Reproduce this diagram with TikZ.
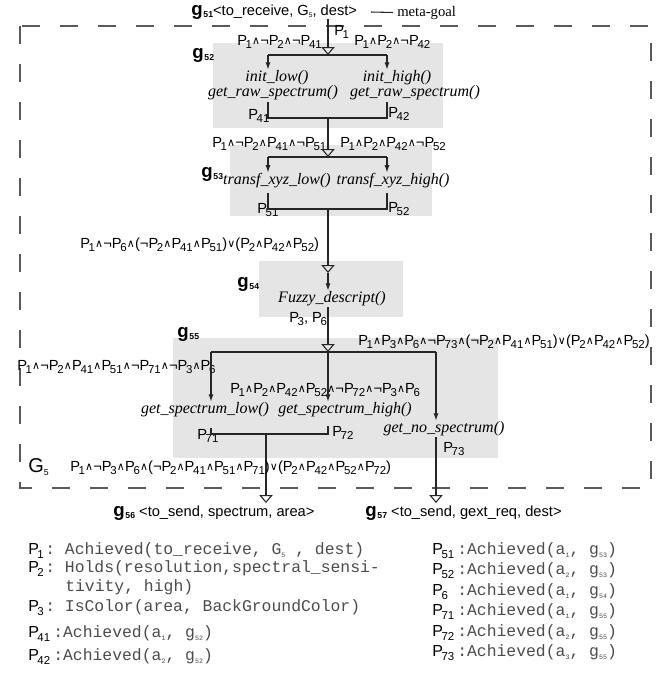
\documentclass[tikz,border=0pt]{standalone}
\usepackage{fontspec}
\setmainfont{Liberation Sans}
\newfontfamily\tnr{Liberation Serif}
\newfontfamily\dv{DejaVu Sans}
\setmonofont{Liberation Mono}
\usetikzlibrary{arrows.meta}
\newcommand\Ps[1]{P\kern-0.09em\raisebox{-0.5ex}{\fontsize{8.6}{8.6}\selectfont #1}}
\newcommand\An{\kern0.1pt\raisebox{0.1ex}{\dv\fontsize{8.2}{8.2}\selectfont ∧}\kern0.1pt}
\newcommand\Vo{\kern0.1pt\raisebox{0.1ex}{\dv\fontsize{8.2}{8.2}\selectfont ∨}\kern0.1pt}
\newcommand\Ng{¬}
\newcommand\gl[1]{{\fontsize{14}{14}\selectfont\bfseries g}\kern0.6pt\raisebox{-0.35ex}{\fontsize{6.5}{6.5}\selectfont\bfseries #1}}
\newcommand\ms[1]{\raisebox{-0.4ex}{\fontsize{5}{5}\selectfont #1}}
\begin{document}
\begin{tikzpicture}[x=0.75pt,y=-0.75pt]
\tikzset{
 lab/.style={inner sep=0pt, anchor=base west, font=\fontsize{11}{13}\selectfont},
 leg/.style={inner sep=0pt, anchor=base west, font=\fontsize{12}{13}\selectfont},
 fn/.style={inner sep=0pt, anchor=base, font=\tnr\itshape\fontsize{12}{14}\selectfont},
 mono/.style={inner sep=0pt, anchor=base west, font=\ttfamily\fontsize{12.3}{14}\selectfont, text=black!70},
 box/.style={fill=gray!20},
 ln/.style={draw=black!85, line width=0.8pt},
 opent/.style={-{Triangle[open,length=6pt,width=10pt]}},
 arr/.style={-{Latex[length=5.5pt,width=3.8pt]}},
 frame/.style={draw=black!65, line width=0.8pt, dash pattern=on 13.5pt off 15pt}
}
\fill[white] (0,0) rectangle (668,675);
\useasboundingbox (0,0) rectangle (668,675);
% boxes and frame
\draw[frame] (20,26) rectangle (651,488);
\fill[box] (213,43) rectangle (443,128);
\fill[box] (230,145) rectangle (432,216);
\fill[box] (259,261) rectangle (403,317);
\fill[box] (173,338) rectangle (498,458);

% top goal
\node[lab] (g51) at (191,15) {\gl{51}<to\_receive, G\raisebox{-0.3ex}{\fontsize{5}{5}\selectfont 5}, dest>};
\node[inner sep=0pt, anchor=base west, font=\tnr\fontsize{11}{13}\selectfont] (meta) at (397,16) {meta-goal};
\coordinate (mg) at (371,12);
\draw[ln] (mg) -- ([xshift=-3pt]meta.west);
\node[lab] (lp1) at (334,35) {\Ps{1}};

% g52
\node[lab] (g52) at (192,58) {\gl{52}};
\node[lab] (c52l) at (237,45) {\Ps{1}\An\Ng\Ps{2}\An\Ng\Ps{41}};
\node[lab] (c52r) at (354,45) {\Ps{1}\An\Ps{2}\An\Ng\Ps{42}};
\node[fn] (il) at (277,81) {init\_low()};
\node[fn] (grl) at (273,96) {get\_raw\_spectrum()};
\node[fn] (ih) at (397,81) {init\_high()};
\node[fn] (grh) at (415,96) {get\_raw\_spectrum()};
\node[lab] (p41) at (248,119) {\Ps{41}};
\node[lab] (p42) at (388,117) {\Ps{42}};
\coordinate (a0) at (328,19);
\coordinate (a1) at (328,55);
\coordinate (a1l) at (268,55);
\coordinate (a1r) at (387,55);
\draw[ln,opent] (a0) -- (a1);
\draw[ln] (a1l) -- (a1r);
\draw[ln,arr] (a1l) -- (a1l |- il.north);
\draw[ln,arr] (a1r) -- (a1r |- ih.north);
\coordinate (b1l) at (268,102);
\coordinate (b1r) at (387,102);
\coordinate (b2) at (328,118);
\draw[ln] (b1l) |- (b2) -| (b1r);

% g53
\node[lab] (g53) at (201,177) {\gl{53}};
\node[lab] (c53l) at (212,147) {\Ps{1}\An\Ng\Ps{2}\An\Ps{41}\An\Ng\Ps{51}};
\node[lab] (c53r) at (340,147) {\Ps{1}\An\Ps{2}\An\Ps{42}\An\Ng\Ps{52}};
\node[fn] (tl) at (277,184) {transf\_xyz\_low()};
\node[fn] (th) at (393,184) {transf\_xyz\_high()};
\node[lab] (p51) at (257,213) {\Ps{51}};
\node[lab] (p52) at (388,212) {\Ps{52}};
\coordinate (c1) at (328,157);
\coordinate (c1l) at (268,157);
\coordinate (c1r) at (387,157);
\draw[ln,opent] (b2) -- (c1);
\draw[ln] (c1l) -- (c1r);
\draw[ln,arr] (c1l) -- (c1l |- tl.north);
\draw[ln,arr] (c1r) -- (c1r |- th.north);
\coordinate (d1l) at (268,193);
\coordinate (d1r) at (387,193);
\coordinate (d2) at (328,209);
\draw[ln] (d1l) |- (d2) -| (d1r);

% g54
\node[lab] (c54) at (80,248) {\Ps{1}\An\Ng\Ps{6}\An(\Ng\Ps{2}\An\Ps{41}\An\Ps{51})\Vo(\Ps{2}\An\Ps{42}\An\Ps{52})};
\node[lab] (g54) at (237,287) {\gl{54}};
\node[fn] (fz) at (332,302) {Fuzzy\_descript()};
\node[lab] (p36) at (289,322) {\Ps{3}, \Ps{6}};
\coordinate (e1) at (328,273);
\draw[ln,opent] (d2) -- (e1);
\draw[ln,arr] (e1) -- (e1 |- fz.north);
\coordinate (f0) at (328,307);

% g55
\node[lab] (g55) at (177,337) {\gl{55}};
\node[lab] (c55r) at (358,345) {\Ps{1}\An\Ps{3}\An\Ps{6}\An\Ng\Ps{73}\An(\Ng\Ps{2}\An\Ps{41}\An\Ps{51})\Vo(\Ps{2}\An\Ps{42}\An\Ps{52})};
\node[lab] (c55l) at (17,370) {\Ps{1}\An\Ng\Ps{2}\An\Ps{41}\An\Ps{51}\An\Ng\Ps{71}\An\Ng\Ps{3}\An\Ps{6}};
\node[lab] (c55m) at (230,393) {\Ps{1}\An\Ps{2}\An\Ps{42}\An\Ps{52}\An\Ng\Ps{72}\An\Ng\Ps{3}\An\Ps{6}};
\node[fn] (gsl) at (205,413) {get\_spectrum\_low()};
\node[fn] (gsh) at (345,413) {get\_spectrum\_high()};
\node[fn] (gns) at (444,432) {get\_no\_spectrum()};
\node[lab] (p71) at (197,439) {\Ps{71}};
\node[lab] (p72) at (332,436) {\Ps{72}};
\node[lab] (p73) at (443,452) {\Ps{73}};
\coordinate (h1) at (328,352);
\coordinate (h1l) at (211,352);
\coordinate (h1r) at (436,352);
\draw[ln,opent] (f0) -- (h1);
\draw[ln] (h1l) -- (h1r);
\draw[ln,arr] (h1l) -- (h1l |- gsl.north);
\draw[ln,arr] (h1) -- (h1 |- gsh.north);
\draw[ln,arr] (h1r) -- (h1r |- gns.north);
\coordinate (k1l) at (211,428);
\coordinate (k1r) at (328,426);
\coordinate (k2) at (266,434);
\draw[ln] (k1l) |- (k2) -| (k1r);
\coordinate (m1) at (266,503);
\coordinate (n0) at (436,437);
\coordinate (n1) at (436,503);
\draw[ln,opent] (k2) -- (m1);
\draw[ln,opent] (n0) -- (n1);

% G5 condition
\node[inner sep=0pt, anchor=base west, font=\fontsize{15}{17}\selectfont] (G5) at (28,472) {G\raisebox{-0.3ex}{\fontsize{6.5}{6.5}\selectfont 5}};
\node[lab] (c5) at (70,471) {\Ps{1}\An\Ng\Ps{3}\An\Ps{6}\An(\Ng\Ps{2}\An\Ps{41}\An\Ps{51}\An\Ps{71})\Vo(\Ps{2}\An\Ps{42}\An\Ps{52}\An\Ps{72})};

% outputs
\node[lab] (g56) at (113,516) {\gl{56} <to\_send, spectrum, area>};
\node[lab] (g57) at (365,516) {\gl{57} <to\_send, gext\_req, dest>};

% legend left
\node[leg] (lP1) at (28,554) {\Ps{1}};
\node[mono] (lT1) at (45,554) {: Achieved(to\_receive, G\ms{5} , dest)};
\node[leg] (lP2) at (28,572) {\Ps{2}};
\node[mono] (lT2) at (45,572) {: Holds(resolution,spectral\_sensi-};
\node[mono] (lT2b) at (65,591) {tivity, high)};
\node[leg] (lP3) at (28,611) {\Ps{3}};
\node[mono] (lT3) at (45,611) {: IsColor(area, BackGroundColor)};
\node[leg] (lP41) at (28,637) {\Ps{41}};
\node[mono] (lT41) at (53,637) {:Achieved(a\ms{1}, g\ms{52})};
\node[leg] (lP42) at (28,660) {\Ps{42}};
\node[mono] (lT42) at (53,660) {:Achieved(a\ms{2}, g\ms{52})};
% legend right
\node[leg] (rP51) at (432,554) {\Ps{51}};
\node[mono] (rT51) at (457,554) {:Achieved(a\ms{1}, g\ms{53})};
\node[leg] (rP52) at (432,574) {\Ps{52}};
\node[mono] (rT52) at (457,574) {:Achieved(a\ms{2}, g\ms{53})};
\node[leg] (rP6) at (432,595) {\Ps{6}};
\node[mono] (rT6) at (457,595) {:Achieved(a\ms{1}, g\ms{54})};
\node[leg] (rP71) at (432,615) {\Ps{71}};
\node[mono] (rT71) at (457,615) {:Achieved(a\ms{1}, g\ms{55})};
\node[leg] (rP72) at (432,636) {\Ps{72}};
\node[mono] (rT72) at (457,636) {:Achieved(a\ms{2}, g\ms{55})};
\node[leg] (rP73) at (432,656) {\Ps{73}};
\node[mono] (rT73) at (457,656) {:Achieved(a\ms{3}, g\ms{55})};
\end{tikzpicture}
\end{document}
